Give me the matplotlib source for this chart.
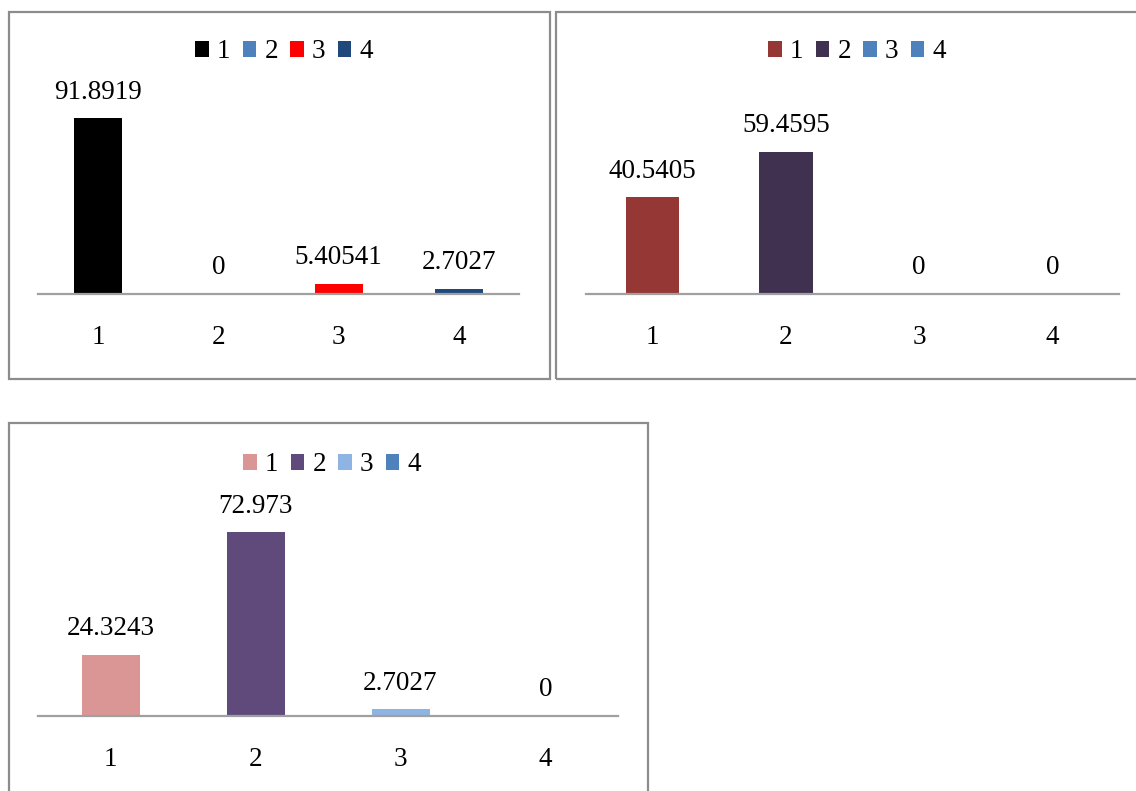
import matplotlib
matplotlib.use('Agg')
import matplotlib.pyplot as plt
from matplotlib.patches import Patch, Rectangle

plt.rcParams['font.family'] = ['Liberation Serif', 'DejaVu Serif']

W, H = 1136, 791

cats = ['1', '2', '3', '4']
vals1 = [91.8919, 0, 5.40541, 2.7027]
vals2 = [40.5405, 59.4595, 0, 0]
vals3 = [24.3243, 72.973, 2.7027, 0]

colors1 = ['#000000', '#4F81BD', '#FF0000', '#1F497D']
colors2 = ['#953735', '#403151', '#4F81BD', '#4F81BD']
colors3 = ['#D99694', '#604A7B', '#8EB4E3', '#4F81BD']


def frac(x0, y0, x1, y1):
    # pixel box (top-left origin) -> figure fraction [left, bottom, w, h]
    return [x0 / W, 1 - y1 / H, (x1 - x0) / W, (y1 - y0) / H]


fig = plt.figure(figsize=(W / 100, H / 100), dpi=100)

# panel frames
for (x0, y0, x1, y1) in [(9, 12, 550, 379), (556, 12, 1145, 379), (9, 423, 648, 800)]:
    fig.patches.append(Rectangle((x0 / W, 1 - y1 / H), (x1 - x0) / W, (y1 - y0) / H,
                                 transform=fig.transFigure, fill=False,
                                 edgecolor='#8C8C8C', linewidth=1.6))


def draw(rect, vals, colors, legend_xy):
    ax = fig.add_axes(frac(*rect))
    x = range(len(cats))
    ax.bar(x, vals, width=0.4, color=colors)
    ax.set_xlim(-0.5, len(cats) - 0.5)
    ax.set_ylim(0, 100)
    for s in ['top', 'left', 'right']:
        ax.spines[s].set_visible(False)
    ax.spines['bottom'].set_color('#A0A0A0')
    ax.spines['bottom'].set_linewidth(1.6)
    ax.set_yticks([])
    ax.set_xticks(list(x))
    ax.set_xticklabels(cats, fontsize=19.5)
    ax.tick_params(axis='x', length=0, pad=22)
    for xi, v in zip(x, vals):
        ax.annotate(f'{v:g}', (xi, v), xytext=(0, 26), textcoords='offset pixels',
                    ha='center', va='center', fontsize=19.5)
    handles = [Patch(facecolor=c, label=l) for c, l in zip(colors, cats)]
    ax.legend(handles=handles, loc='center', ncol=4, frameon=False, fontsize=19.5,
              bbox_to_anchor=(legend_xy[0] / W, 1 - legend_xy[1] / H),
              bbox_transform=fig.transFigure, handlelength=0.5, handleheight=0.5,
              handletextpad=0.3, columnspacing=0.45, borderaxespad=0)
    return ax


draw((38, 102.5, 519, 294), vals1, colors1, (284, 52))
draw((586, 55, 1119, 294), vals2, colors2, (857, 52))
draw((38, 464, 618, 716), vals3, colors3, (332, 465))

fig.savefig('out.png', dpi=100)
